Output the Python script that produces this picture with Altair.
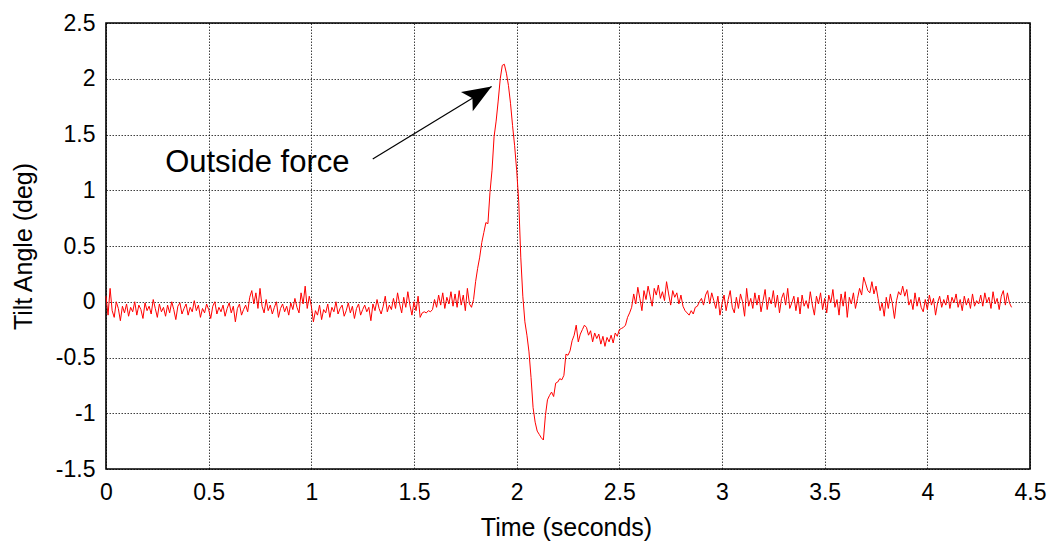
import altair as alt
import pandas as pd

# ---- data ----
TIME_STEP = 0.01

# baseline noise before the disturbance, t = 0.00 .. 1.77 s (hundredths of a degree)
baseline_before = [
    5, -12, 12, -8, -14, 0, -6, -17, -4, -10,
    -2, -13, -5, -9, 0, -12, -3, -7, -15, -1,
    -8, -4, -11, 2, -6, -14, -2, -9, -5, -13,
    -3, -10, 0, -7, -16, -4, -1, -11, -6, -2,
    -12, -5, -9, 1, -8, -3, -14, -6, -10, -2,
    -7, -15, -4, 0, -11, -5, -9, -3, -13, -6,
    -1, -10, -4, -18, -6, -2, -12, -7, -3, -9,
    4, 10, -2, 8, -6, 12, -4, -10, 2, -8,
    -3, -11, -5, 0, -14, -6, -2, -9, -4, -12,
    -1, -7, 3, -5, -10, 8, -2, 14, -6, 5,
    -4, -18, -8, -12, -3, -16, -7, -10, -2, -14,
    -5, -9, 0, -11, -6, -3, -13, -8, -1, -10,
    -4, -15, -6, -2, -12, -7, -3, -9, -5, -17,
    -2, -8, 2, -6, -11, -4, 5, -9, -3, -7,
    3, -6, 8, -2, -10, 4, -5, 9, -3, -12,
    0, -8, 5, -14, -10, -9, -10, -8, -9, -7,
    2, -5, 6, -3, 8, -6, 4, -2, 9, -4,
    7, -5, 10, -3, 6, -8, 12, -2,
]

# response to the outside force, t = 1.78 .. 2.55 s (degrees)
transient = [
    -0.05, 0.02, 0.18, 0.30, 0.40, 0.53, 0.62, 0.71, 0.70, 0.98,
    1.18, 1.48, 1.62, 1.80, 2.00, 2.12, 2.13, 2.05, 1.94, 1.78,
    1.58, 1.40, 1.18, 0.90, 0.40, 0.05, -0.18, -0.30, -0.45, -0.68,
    -0.95, -1.08, -1.16, -1.19, -1.22, -1.24, -1.02, -0.88, -0.84, -0.81,
    -0.85, -0.73, -0.72, -0.69, -0.70, -0.66, -0.47, -0.48, -0.44, -0.35,
    -0.30, -0.21, -0.36, -0.29, -0.25, -0.21, -0.23, -0.30, -0.26, -0.36,
    -0.28, -0.33, -0.29, -0.38, -0.31, -0.40, -0.32, -0.36, -0.30, -0.37,
    -0.28, -0.31, -0.25, -0.24, -0.23, -0.21, -0.14, -0.10,
]

# baseline noise after recovery, t = 2.56 .. 4.41 s (hundredths of a degree)
baseline_after = [
    -5, 7, -2, 13, 3, -8, 10, 2, 14, 5,
    -4, 12, 6, 15, 3, 9, 1, 18, 7, -3,
    10, 4, 8, -2, 6, -4, -8, -10, -12, -8,
    -11, -5, -4, 0, 3, -3, 6, 10, -2, 8,
    1, -6, 5, -12, -2, 6, -8, 2, 10, -5,
    -10, 4, -6, 7, 0, -13, 12, -4, 3, -6,
    8, -3, 6, -9, 1, 11, -7, 4, -2, 10,
    -5, 6, -10, 3, 8, -3, 12, -6, -1, 5,
    -8, 4, -11, 6, -4, 1, -6, 9, -3, -12,
    5, -2, 8, -7, 3, -10, 6, -1, 11, -5,
    2, -12, 7, -4, 9, -14, 4, -2, 8, -6,
    3, 12, 6, 22, 16, 10, 8, 18, 7, 14,
    3, -8, -1, -13, 4, -6, 7, -2, -15, 1,
    9, 6, 14, 5, 11, -3, 2, -7, 8, -4,
    4, -5, -9, 2, -7, 6, -3, 3, -12, -1,
    5, -5, 2, -3, 6, -6, 4, -1, 7, -5,
    2, -8, 5, -3, 3, -6, 7, -4, 1, -2,
    6, -4, 8, -1, 4, -6, 9, -2, 3, -7,
    5, 10, -3, 8, -1, -5,
]

x_ticks = [0, 0.5, 1, 1.5, 2, 2.5, 3, 3.5, 4, 4.5]
y_ticks = [-1.5, -1, -0.5, 0, 0.5, 1, 1.5, 2, 2.5]

annotation_text = ["Outside force"]
annotation_pos = [(0.288, 1.16)]          # (time, angle) of text baseline start
arrow_from = [(1.299, 1.28)]
arrow_to = [(1.878, 1.93)]

# ---- build table ----
angles = [v / 100 for v in baseline_before] + transient + [v / 100 for v in baseline_after]
times = [round(i * TIME_STEP, 2) for i in range(len(angles))]
df = pd.DataFrame({"t": times, "angle": angles})

ann_df = pd.DataFrame({
    "x": [p[0] for p in annotation_pos],
    "y": [p[1] for p in annotation_pos],
    "label": annotation_text,
})
arrow_df = pd.DataFrame({
    "x0": [p[0] for p in arrow_from], "y0": [p[1] for p in arrow_from],
    "x1": [p[0] for p in arrow_to], "y1": [p[1] for p in arrow_to],
})

FONT = "Liberation Sans"
xscale = alt.Scale(domain=[0, 4.5], nice=False, zero=False)
yscale = alt.Scale(domain=[-1.5, 2.5], nice=False, zero=False)

x_axis = alt.Axis(
    values=x_ticks, title="Time (seconds)", labelExpr="'' + datum.value",
    labelPadding=12, labelFlush=False, labelOverlap=False,
    titleX=460, titleY=66, titleBaseline="alphabetic",
)
y_axis = alt.Axis(
    values=y_ticks, title="Tilt Angle (deg)", labelExpr="'' + datum.value",
    labelPadding=11, labelFlush=False, labelOverlap=False,
    titleX=-83, titleY=223, titleBaseline="middle",
)

line = alt.Chart(df).mark_line(color="#ff0000", strokeWidth=1).encode(
    x=alt.X("t:Q", scale=xscale, axis=x_axis),
    y=alt.Y("angle:Q", scale=yscale, axis=y_axis),
)

arrow_line = alt.Chart(arrow_df).mark_rule(color="black", strokeWidth=1.2).encode(
    x=alt.X("x0:Q", scale=xscale, axis=x_axis),
    y=alt.Y("y0:Q", scale=yscale, axis=y_axis),
    x2="x1:Q", y2="y1:Q",
)

arrow_head = alt.Chart(arrow_df).mark_point(
    shape="M0,0 L-2,-0.78 L-1.55,0 L-2,0.78 Z",
    size=841, angle=328.6, filled=True, color="black", opacity=1, strokeWidth=0,
).encode(
    x=alt.X("x1:Q", scale=xscale, axis=x_axis),
    y=alt.Y("y1:Q", scale=yscale, axis=y_axis),
)

text = alt.Chart(ann_df).mark_text(
    align="left", baseline="alphabetic", font=FONT, fontSize=31, color="black",
).encode(
    x=alt.X("x:Q", scale=xscale, axis=x_axis),
    y=alt.Y("y:Q", scale=yscale, axis=y_axis),
    text="label:N",
)

chart = alt.layer(line, arrow_line, arrow_head, text).properties(
    width=924, height=446,
    autosize=alt.AutoSizeParams(type="none"),
    padding={"left": 106, "top": 23, "right": 24, "bottom": 73},
    background="white",
).configure_view(
    stroke="black", strokeWidth=1.6,
).configure_axis(
    grid=True, gridColor="#000000", gridDash=[1.5, 1.5], gridWidth=1, gridOpacity=0.75,
    domain=False, ticks=False,
    labelFont=FONT, labelFontSize=23, labelColor="black",
    titleFont=FONT, titleFontSize=25, titleFontWeight="normal", titleColor="black",
)

chart.save("out.html", embed_options={"renderer": "svg", "actions": False})
